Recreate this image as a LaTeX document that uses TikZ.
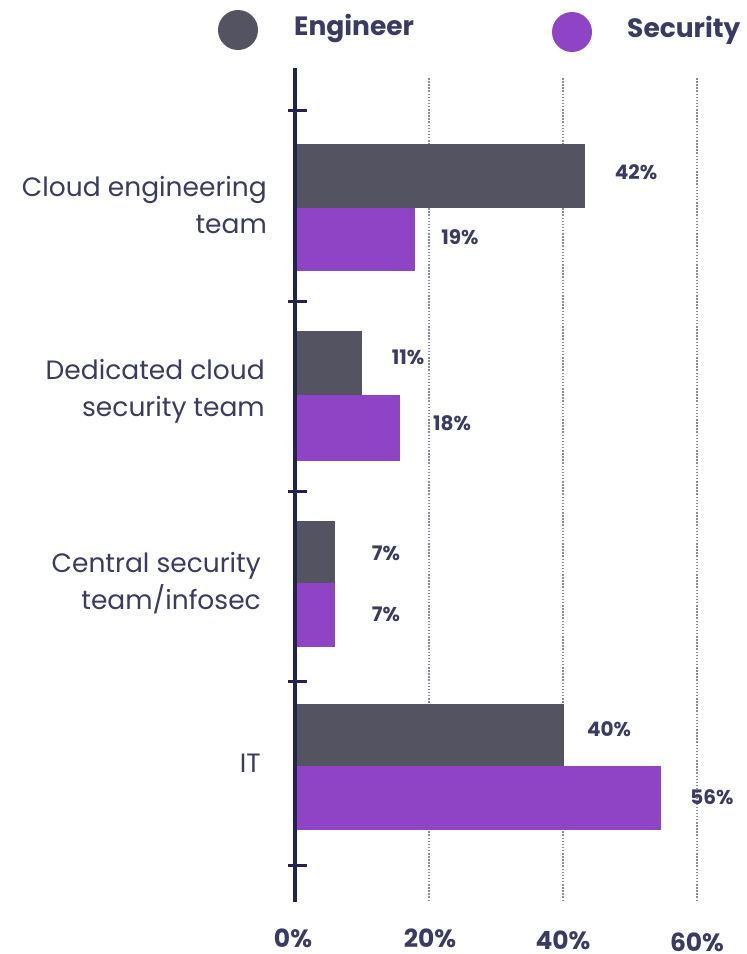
\documentclass[tikz,border=0pt]{standalone}
\usepackage{fontspec}
\setmainfont{Poppins}
\definecolor{engc}{HTML}{545362}
\definecolor{secc}{HTML}{8E44C4}
\definecolor{txtc}{HTML}{3A3A63}
\definecolor{axisc}{HTML}{232350}
\definecolor{gridc}{HTML}{8C8AA0}
\tikzset{
  catlabel/.style={font=\fontsize{26.5}{37}\selectfont, text=txtc, anchor=east, align=right, inner sep=0pt},
  vallabel/.style={font=\bfseries\fontsize{20}{24}\selectfont, text=txtc, inner sep=0pt},
  axlabel/.style={font=\bfseries\fontsize{25}{30}\selectfont, text=txtc, inner sep=0pt},
  leglabel/.style={font=\bfseries\fontsize{26.5}{30}\selectfont, text=txtc, anchor=west, inner sep=0pt},
  engbar/.style={fill=engc},
  secbar/.style={fill=secc},
  gridline/.style={draw=gridc, line width=1.3pt, dash pattern=on 1.5pt off 1.6pt},
  axisline/.style={draw=axisc, line width=3.5pt},
  tickline/.style={draw=axisc, line width=3pt}
}
\begin{document}
\begin{tikzpicture}[x=1pt,y=-1pt]
\useasboundingbox (0,0) rectangle (747,954);
\fill[white] (0,0) rectangle (747,954);

% legend
\fill[engc] (238,30) circle (20);
\node[leglabel] (legeng) at (294,29) {Engineer};
\fill[secc] (572,32) circle (20);
\node[leglabel] (legsec) at (627,30) {Security};

% grid lines
\foreach \gx in {429,563,697} \draw[gridline] (\gx,78) -- (\gx,901);

% bars
\fill[engbar] (295,144) rectangle (585,208);
\fill[secbar] (295,208) rectangle (415,271);
\fill[engbar] (295,331) rectangle (362,395);
\fill[secbar] (295,395) rectangle (400,461);
\fill[engbar] (295,521) rectangle (335,583);
\fill[secbar] (295,583) rectangle (335,647);
\fill[engbar] (295,704) rectangle (564,766);
\fill[secbar] (295,766) rectangle (661,830);

% axis
\draw[axisline] (295,68) -- (295,902);
\foreach \ty in {110,301,491,681,865} \draw[tickline] (288,\ty) -- (307,\ty);

% value labels
\node[vallabel] (v1) at (636,172) {42\%};
\node[vallabel] (v2) at (460,237) {19\%};
\node[vallabel] (v3) at (408,357) {11\%};
\node[vallabel] (v4) at (452,423) {18\%};
\node[vallabel] (v5) at (386,553) {7\%};
\node[vallabel] (v6) at (386,614) {7\%};
\node[vallabel] (v7) at (609,729) {40\%};
\node[vallabel] (v8) at (712,797) {56\%};

% category labels
\node[catlabel] (c1) at (267,205) {Cloud engineering\\team};
\node[catlabel] (c2) at (265,391) {Dedicated cloud\\security team};
\node[catlabel] (c3) at (261,583) {Central security\\team/infosec};
\node[catlabel] (c4) at (261,763) {IT};

% axis labels
\node[axlabel] (a0) at (293,938) {0\%};
\node[axlabel] (a20) at (430,938) {20\%};
\node[axlabel] (a40) at (563,940) {40\%};
\node[axlabel] (a60) at (697,942) {60\%};
\end{tikzpicture}
\end{document}
